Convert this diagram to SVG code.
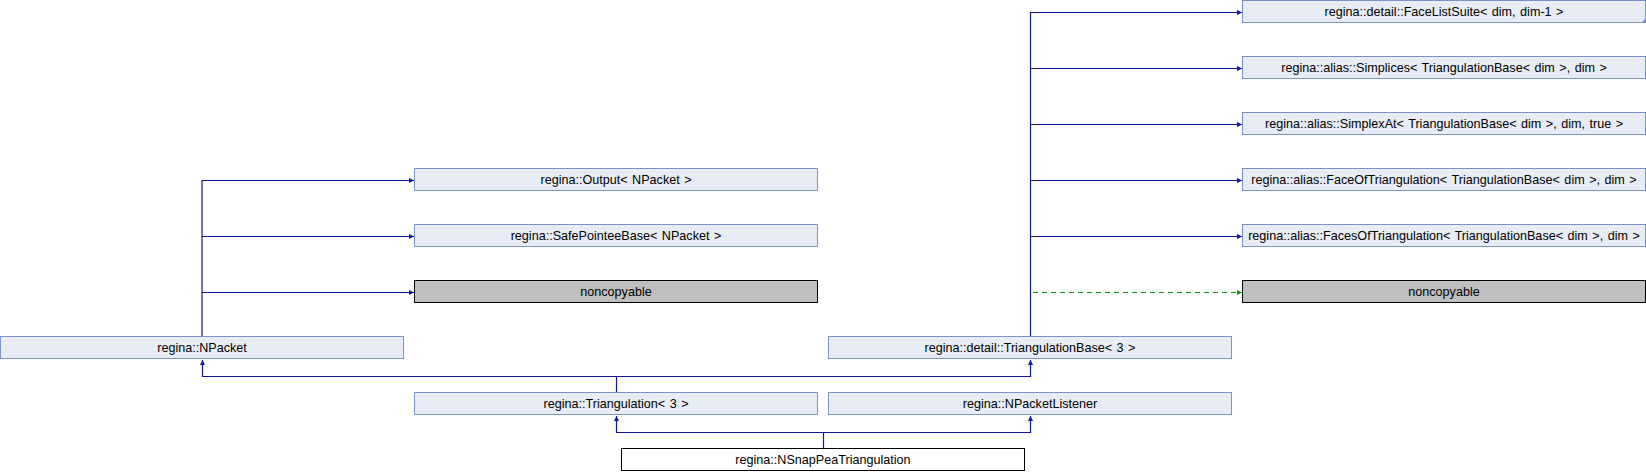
<svg xmlns="http://www.w3.org/2000/svg" width="1646" height="472" viewBox="0 0 1646 472">
<defs>
<style>
.n rect{fill:#e8ecf5;stroke:#7c92c9;stroke-width:1}
.g rect{fill:#bfbfbf;stroke:#000;stroke-width:1}
.w rect{fill:#fff;stroke:#000;stroke-width:1}
text{font-family:"Liberation Sans",Arial,sans-serif;font-size:12.6px;word-spacing:1px;fill:#000;text-anchor:middle}
.e{fill:none;stroke:#14149a;stroke-width:1.2}
.d{fill:none;stroke:#0a960a;stroke-width:1.2;stroke-dasharray:5,4}
</style>
<marker id="ab" markerWidth="6" markerHeight="6" refX="5" refY="2.5" orient="auto" markerUnits="userSpaceOnUse">
<path d="M0,0 L5,2.5 L0,5 Z" fill="#14149a"/>
</marker>
<marker id="ag" markerWidth="6" markerHeight="6" refX="5" refY="2.5" orient="auto" markerUnits="userSpaceOnUse">
<path d="M0,0 L5,2.5 L0,5 Z" fill="#0a960a"/>
</marker>
</defs>
<g id="connectors">
<path class="e" d="M202,336.5 V180.5 H414" marker-end="url(#ab)"/>
<path class="e" d="M202,236.5 H414" marker-end="url(#ab)"/>
<path class="e" d="M202,292.5 H414" marker-end="url(#ab)"/>
<path class="e" d="M1030.5,336.5 V12.5 H1242" marker-end="url(#ab)"/>
<path class="e" d="M1030.5,68.5 H1242" marker-end="url(#ab)"/>
<path class="e" d="M1030.5,124.5 H1242" marker-end="url(#ab)"/>
<path class="e" d="M1030.5,180.5 H1242" marker-end="url(#ab)"/>
<path class="e" d="M1030.5,236.5 H1242" marker-end="url(#ab)"/>
<path class="d" d="M1033,292.5 H1242" marker-end="url(#ag)"/>
<path class="e" d="M616.5,392.5 V376.5 H202.5 V360" marker-end="url(#ab)"/>
<path class="e" d="M616.5,376.5 H1030.5 V360" marker-end="url(#ab)"/>
<path class="e" d="M823.5,448.5 V432.5 H616.5 V416" marker-end="url(#ab)"/>
<path class="e" d="M823.5,432.5 H1030.5 V416" marker-end="url(#ab)"/>
</g>
<g id="FaceListSuite" class="n"><rect x="1242.5" y="0.5" width="403" height="22"/><path d="M1645.5,18.5 L1641.5,22.5 L1645.5,22.5 Z" fill="#7c92c9"/><text x="1444" y="16">regina::detail::FaceListSuite&lt; dim, dim-1 &gt;</text></g>
<g id="Simplices" class="n"><rect x="1242.5" y="56.5" width="403" height="22"/><text x="1444" y="72">regina::alias::Simplices&lt; TriangulationBase&lt; dim &gt;, dim &gt;</text></g>
<g id="SimplexAt" class="n"><rect x="1242.5" y="112.5" width="403" height="22"/><text x="1444" y="128">regina::alias::SimplexAt&lt; TriangulationBase&lt; dim &gt;, dim, true &gt;</text></g>
<g id="FaceOfTriangulation" class="n"><rect x="1242.5" y="168.5" width="403" height="22"/><text x="1444" y="184">regina::alias::FaceOfTriangulation&lt; TriangulationBase&lt; dim &gt;, dim &gt;</text></g>
<g id="FacesOfTriangulation" class="n"><rect x="1242.5" y="224.5" width="403" height="22"/><text x="1444" y="240">regina::alias::FacesOfTriangulation&lt; TriangulationBase&lt; dim &gt;, dim &gt;</text></g>
<g id="noncopyable2" class="g"><rect x="1242.5" y="280.5" width="403" height="22"/><text x="1444" y="296">noncopyable</text></g>
<g id="Output" class="n"><rect x="414.5" y="168.5" width="403" height="22"/><text x="616" y="184">regina::Output&lt; NPacket &gt;</text></g>
<g id="SafePointeeBase" class="n"><rect x="414.5" y="224.5" width="403" height="22"/><text x="616" y="240">regina::SafePointeeBase&lt; NPacket &gt;</text></g>
<g id="noncopyable1" class="g"><rect x="414.5" y="280.5" width="403" height="22"/><text x="616" y="296">noncopyable</text></g>
<g id="NPacket" class="n"><rect x="0.5" y="336.5" width="403" height="22"/><text x="202" y="352">regina::NPacket</text></g>
<g id="TriangulationBase" class="n"><rect x="828.5" y="336.5" width="403" height="22"/><text x="1030" y="352">regina::detail::TriangulationBase&lt; 3 &gt;</text></g>
<g id="Triangulation" class="n"><rect x="414.5" y="392.5" width="403" height="22"/><text x="616" y="408">regina::Triangulation&lt; 3 &gt;</text></g>
<g id="NPacketListener" class="n"><rect x="828.5" y="392.5" width="403" height="22"/><text x="1030" y="408">regina::NPacketListener</text></g>
<g id="NSnapPeaTriangulation" class="w"><rect x="621.5" y="448.5" width="403" height="22"/><text x="823" y="464">regina::NSnapPeaTriangulation</text></g>
</svg>
